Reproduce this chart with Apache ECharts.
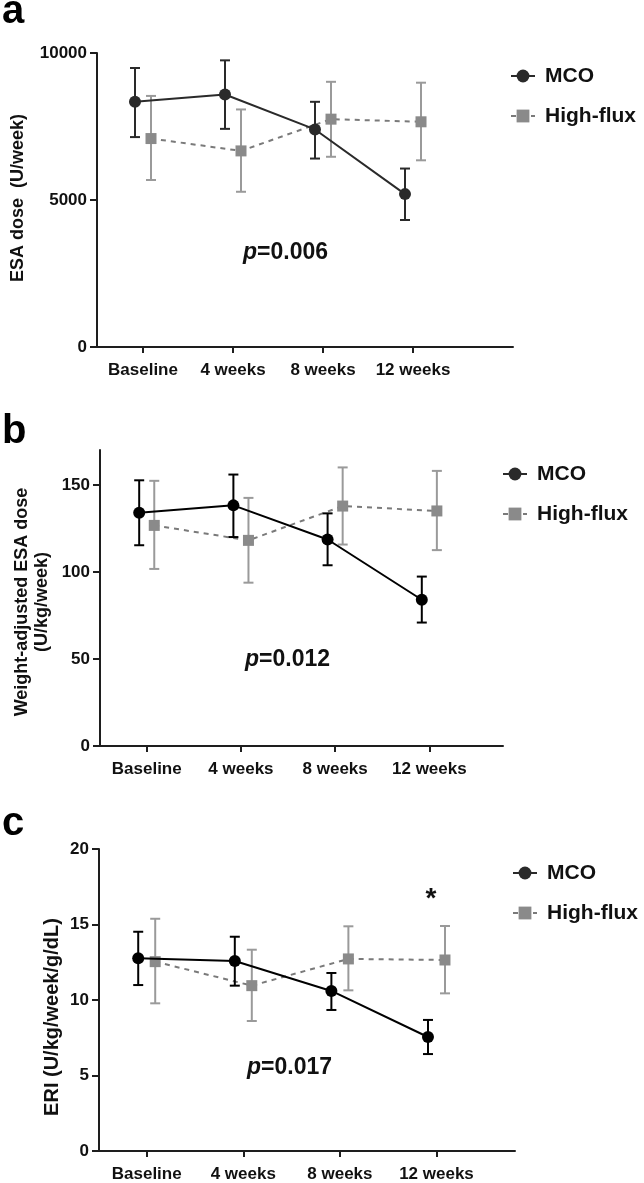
<!DOCTYPE html>
<html>
<head>
<meta charset="utf-8">
<script src="https://cdn.jsdelivr.net/npm/echarts@6/dist/echarts.min.js"></script>
<style>
html,body{margin:0;padding:0;background:#fff;}
#chart{width:644px;height:1183px;}
</style>
</head>
<body>
<div id="chart"></div>
<script>
// ---------- data ----------
const categories = ['Baseline', '4 weeks', '8 weeks', '12 weeks'];
const seriesNames = ['MCO', 'High-flux'];

// Panel a: ESA dose (U/week)
const esaMCO      = [8340, 8590, 7400, 5200];
const esaMCOLow   = [7140, 7420, 6410, 4320];
const esaMCOHigh  = [9490, 9750, 8340, 6070];
const esaHF       = [7090, 6670, 7750, 7660];
const esaHFLow    = [5680, 5280, 6470, 6350];
const esaHFHigh   = [8540, 8080, 9020, 8990];
const esaTicks    = [0, 5000, 10000];

// Panel b: Weight-adjusted ESA dose (U/kg/week)
const wMCO     = [134.0, 138.2, 118.6, 84.0];
const wMCOLow  = [115.3, 120.0, 103.8, 70.9];
const wMCOHigh = [152.6, 155.9, 133.6, 97.3];
const wHF      = [126.7, 118.1, 137.8, 135.0];
const wHFLow   = [101.7, 93.8, 115.7, 112.5];
const wHFHigh  = [152.3, 142.5, 160.0, 158.0];
const wTicks   = [0, 50, 100, 150];

// Panel c: ERI (U/kg/week/g/dL)
const eriMCO     = [12.76, 12.58, 10.60, 7.55];
const eriMCOLow  = [10.99, 10.95, 9.34, 6.42];
const eriMCOHigh = [14.52, 14.19, 11.79, 8.68];
const eriHF      = [12.54, 10.95, 12.72, 12.65];
const eriHFLow   = [9.78, 8.61, 10.64, 10.44];
const eriHFHigh  = [15.38, 13.33, 14.88, 14.90];
const eriTicks   = [0, 5, 10, 15, 20];

const pValues = ['0.006', '0.012', '0.017'];
const panelLetters = ['a', 'b', 'c'];
const yTitles = ['ESA dose  (U/week)', 'Weight-adjusted ESA dose\n(U/kg/week)', 'ERI (U/kg/week/g/dL)'];

// ---------- styling ----------
const FONT = "'Liberation Sans', Arial, sans-serif";
const AX = '#1e1e1e';
const panels = [
  { grid:{left:97, top:53, width:416, height:294}, xmin:-0.511, xmax:4.111, ymax:10000, ticks:esaTicks,
    off:0.089, mcoColor:'#2a2a2a',
    mco:[esaMCO, esaMCOLow, esaMCOHigh], hf:[esaHF, esaHFLow, esaHFHigh],
    legendTop:59, legendLeft:505, p:{x:243, y:253}, yt:{x:18, y:198, fs:18}, letterY:32 },
  { grid:{left:100, top:450, width:403, height:296}, xmin:-0.496, xmax:3.782, ymax:170, ticks:wTicks,
    off:0.08, mcoColor:'#000000',
    mco:[wMCO, wMCOLow, wMCOHigh], hf:[wHF, wHFLow, wHFHigh],
    legendTop:457, legendLeft:497, p:{x:245, y:660}, yt:{x:32, y:602, fs:18}, letterY:452 },
  { grid:{left:99, top:849, width:416, height:302}, xmin:-0.494, xmax:3.813, ymax:20, ticks:eriTicks,
    off:0.088, mcoColor:'#000000',
    mco:[eriMCO, eriMCOLow, eriMCOHigh], hf:[eriHF, eriHFLow, eriHFHigh],
    legendTop:856, legendLeft:507, p:{x:247, y:1068}, yt:{x:52, y:1017, fs:20}, letterY:844 }
];
const HF_COLOR = '#8a8a8a';
const HF_LINE = '#7a7a7a';
const HF_ERR = '#9a9a9a';

function errRenderer(color) {
  return function (params, api) {
    const x = api.value(0), lo = api.value(1), hi = api.value(2);
    const pH = api.coord([x, hi]);
    const pL = api.coord([x, lo]);
    const w = 5;
    const st = { stroke: color, lineWidth: 2 };
    return { type:'group', children:[
      { type:'line', shape:{x1:pH[0], y1:pH[1], x2:pL[0], y2:pL[1]}, style:st },
      { type:'line', shape:{x1:pH[0]-w, y1:pH[1], x2:pH[0]+w, y2:pH[1]}, style:st },
      { type:'line', shape:{x1:pL[0]-w, y1:pL[1], x2:pL[0]+w, y2:pL[1]}, style:st }
    ]};
  };
}

const option = { animation:false, backgroundColor:'#fff', grid:[], xAxis:[], yAxis:[], series:[], legend:[], graphic:[] };
const catIdx = categories.map((c, i) => i);

panels.forEach((P, k) => {
  option.grid.push(P.grid);
  option.xAxis.push({
    type:'value', gridIndex:k, min:P.xmin, max:P.xmax,
    splitLine:{show:false},
    axisLine:{show:true, onZero:false, lineStyle:{color:AX, width:2}},
    axisTick:{show:true, length:6, lineStyle:{color:AX, width:2}, customValues:catIdx},
    axisLabel:{show:true, customValues:catIdx, margin:15, color:'#111',
      fontFamily:FONT, fontWeight:'bold', fontSize:17,
      formatter:(v) => categories[Math.round(v)]}
  });
  option.yAxis.push({
    type:'value', gridIndex:k, min:0, max:P.ymax,
    splitLine:{show:false},
    axisLine:{show:true, onZero:false, lineStyle:{color:AX, width:2}},
    axisTick:{show:true, length:7, lineStyle:{color:AX, width:2}, customValues:P.ticks},
    axisLabel:{show:true, customValues:P.ticks, margin:10, color:'#111',
      fontFamily:FONT, fontWeight:'bold', fontSize:17, formatter:(v) => String(v)}
  });
  const hfPts = categories.map((c, i) => [i + P.off, P.hf[0][i]]);
  const mcoPts = categories.map((c, i) => [i - P.off, P.mco[0][i]]);
  const hfErr = categories.map((c, i) => [i + P.off, P.hf[1][i], P.hf[2][i]]);
  const mcoErr = categories.map((c, i) => [i - P.off, P.mco[1][i], P.mco[2][i]]);
  option.series.push({
    type:'custom', name:'High-flux err', xAxisIndex:k, yAxisIndex:k, z:1,
    renderItem:errRenderer(HF_ERR), data:hfErr, encode:{x:0, y:[1,2]}, silent:true
  });
  option.series.push({
    type:'line', name:'High-flux', xAxisIndex:k, yAxisIndex:k, z:2, data:hfPts,
    symbol:'rect', symbolSize:11, color:HF_COLOR,
    itemStyle:{color:HF_COLOR},
    lineStyle:{color:HF_LINE, width:2, type:[5,5]}
  });
  option.series.push({
    type:'custom', name:'MCO err', xAxisIndex:k, yAxisIndex:k, z:3,
    renderItem:errRenderer(P.mcoColor), data:mcoErr, encode:{x:0, y:[1,2]}, silent:true
  });
  option.series.push({
    type:'line', name:'MCO', xAxisIndex:k, yAxisIndex:k, z:4, data:mcoPts,
    symbol:'circle', symbolSize:12, color:P.mcoColor,
    itemStyle:{color:P.mcoColor},
    lineStyle:{color:P.mcoColor, width:2}
  });
  option.legend.push({
    data:seriesNames, orient:'vertical', left:P.legendLeft, top:P.legendTop,
    itemWidth:24, itemHeight:16, itemGap:16, selectedMode:false,
    textStyle:{fontFamily:FONT, fontWeight:'bold', fontSize:21, color:'#111', lineHeight:24, padding:[0,0,0,5]}
  });
  // panel letter
  option.graphic.push({ type:'text', x:2, y:P.letterY,
    style:{ text:panelLetters[k], font:'bold 40px ' + FONT, fill:'#000', align:'left', verticalAlign:'bottom' } });
  // y title
  option.graphic.push({ type:'text', x:P.yt.x, y:P.yt.y, rotation:Math.PI/2,
    style:{ text:yTitles[k], font:'bold ' + P.yt.fs + 'px ' + FONT, fill:'#111', align:'center', verticalAlign:'middle', lineHeight:20 } });
  // p value
  option.graphic.push({ type:'text', x:P.p.x, y:P.p.y,
    style:{ text:'{i|p}{n|=' + pValues[k] + '}', align:'left', verticalAlign:'middle',
      rich:{ i:{font:'italic bold 23px ' + FONT, fill:'#111'}, n:{font:'bold 23px ' + FONT, fill:'#111'} } } });
});
// significance asterisk (panel c, 12 weeks)
option.graphic.push({ type:'text', x:431, y:899,
  style:{ text:'*', font:'bold 28px ' + FONT, fill:'#111', align:'center', verticalAlign:'middle' } });

const chart = echarts.init(document.getElementById('chart'), null, {renderer:'canvas'});
chart.setOption(option);
</script>
</body>
</html>
